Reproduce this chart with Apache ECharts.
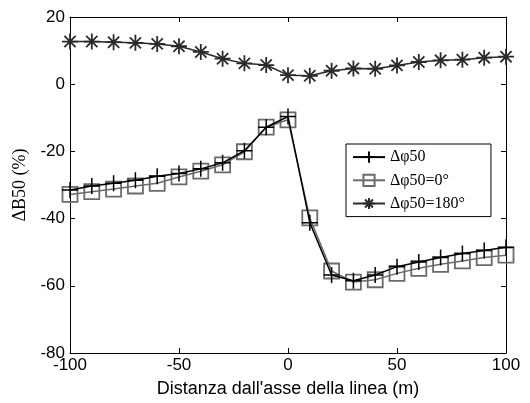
<!DOCTYPE html>
<html><head><meta charset="utf-8">
<script src="https://cdn.jsdelivr.net/npm/echarts@6/dist/echarts.min.js"></script>
<style>html,body{margin:0;padding:0;background:#fff}#c{width:530px;height:403px}</style>
</head><body><div id="c"></div>
<script>
var xs = [-100,-90,-80,-70,-60,-50,-40,-30,-20,-10,0,10,20,30,40,50,60,70,80,90,100];
var dphi50 = [-31.5,-30.3,-29.5,-28.6,-27.4,-26.6,-25.2,-23.4,-19.8,-12.8,-9.6,-41.2,-56.8,-58.5,-56.8,-54.3,-52.9,-51.6,-50.4,-49.5,-48.5];
var dphi0 = [-32.8,-32.0,-31.2,-30.3,-29.5,-27.6,-25.9,-24.0,-20.1,-12.8,-10.6,-39.8,-55.6,-58.9,-58.2,-56.3,-54.8,-53.6,-52.6,-51.6,-50.9];
var dphi180 = [12.7,12.7,12.5,12.3,12.0,11.3,9.6,7.6,6.2,5.7,2.7,2.5,4.0,4.7,4.6,5.6,6.6,7.1,7.3,7.9,8.2];
var names = ['\u0394\u03c650','\u0394\u03c650=0\u00b0','\u0394\u03c650=180\u00b0'];
var xTicks = {min:-100,max:100,interval:50};
var yTicks = {min:-80,max:20,interval:20};

function pairs(v){ return xs.map(function(x,i){return [x,v[i]];}); }
var plusPath = 'path://M0,-10L0,10M-10,0L10,0';
var sqPath = 'path://M-10,-10L10,-10L10,10L-10,10Z';
var starPath = 'path://M0,-10L0,10M-10,0L10,0M-7,-7L7,7M-7,7L7,-7';

var chart = echarts.init(document.getElementById('c'));
var axisFont = {fontFamily:'Liberation Sans, Arial', fontSize:17, color:'#000'};
var lineCfg = {show:true,onZero:false,lineStyle:{color:'#000',width:1}};
chart.setOption({
  animation:false,
  backgroundColor:'#fff',
  grid:{left:70,right:24,top:17,bottom:43},
  legend:{
    orient:'vertical', left:346, top:144,
    backgroundColor:'#fff', borderColor:'#000', borderWidth:1,
    padding:[5,26,5,6], itemGap:7, itemWidth:32, itemHeight:14,
    textStyle:{fontFamily:'Liberation Serif, Times New Roman', fontSize:16, color:'#000'},
    data:names
  },
  xAxis:[{
    type:'value', min:xTicks.min, max:xTicks.max, interval:xTicks.interval,
    axisLine:lineCfg,
    axisTick:{inside:true,length:5,lineStyle:{color:'#000'}},
    axisLabel:Object.assign({margin:4},axisFont),
    splitLine:{show:false},
    name:"Distanza dall'asse della linea (m)", nameLocation:'middle', nameGap:27,
    nameTextStyle:{fontFamily:'Liberation Sans, Arial', fontSize:18, color:'#000'}
  },{
    type:'value', position:'top', min:xTicks.min, max:xTicks.max, interval:xTicks.interval,
    axisLine:lineCfg,
    axisTick:{inside:true,length:5,lineStyle:{color:'#000'}},
    axisLabel:{show:false}, splitLine:{show:false}
  }],
  yAxis:[{
    type:'value', min:yTicks.min, max:yTicks.max, interval:yTicks.interval,
    axisLine:lineCfg,
    axisTick:{show:true,inside:true,length:5,lineStyle:{color:'#000'}},
    axisLabel:Object.assign({margin:5},axisFont),
    splitLine:{show:false},
    name:'\u0394B50 (%)', nameLocation:'middle', nameGap:25,
    nameTextStyle:{fontFamily:'Liberation Serif, Times New Roman', fontSize:18, color:'#000'}
  },{
    type:'value', position:'right', min:yTicks.min, max:yTicks.max, interval:yTicks.interval,
    axisLine:lineCfg,
    axisTick:{show:true,inside:true,length:5,lineStyle:{color:'#000'}},
    axisLabel:{show:false}, splitLine:{show:false}
  }],
  series:[{
    name:names[0], type:'line', data:pairs(dphi50),
    symbol:plusPath, symbolSize:16, showAllSymbol:true,
    lineStyle:{color:'#000',width:1.5},
    itemStyle:{color:'none',borderColor:'#000',borderWidth:1.5},
    z:3
  },{
    name:names[1], type:'line', data:pairs(dphi0),
    symbol:sqPath, symbolSize:15, showAllSymbol:true,
    lineStyle:{color:'#6a6a6a',width:1.5},
    itemStyle:{color:'none',borderColor:'#6a6a6a',borderWidth:1.8},
    z:2
  },{
    name:names[2], type:'line', data:pairs(dphi180),
    symbol:starPath, symbolSize:16, showAllSymbol:true,
    lineStyle:{color:'#2a2a2a',width:1.5},
    itemStyle:{color:'none',borderColor:'#2a2a2a',borderWidth:1.8},
    z:3
  }]
});
</script></body></html>
